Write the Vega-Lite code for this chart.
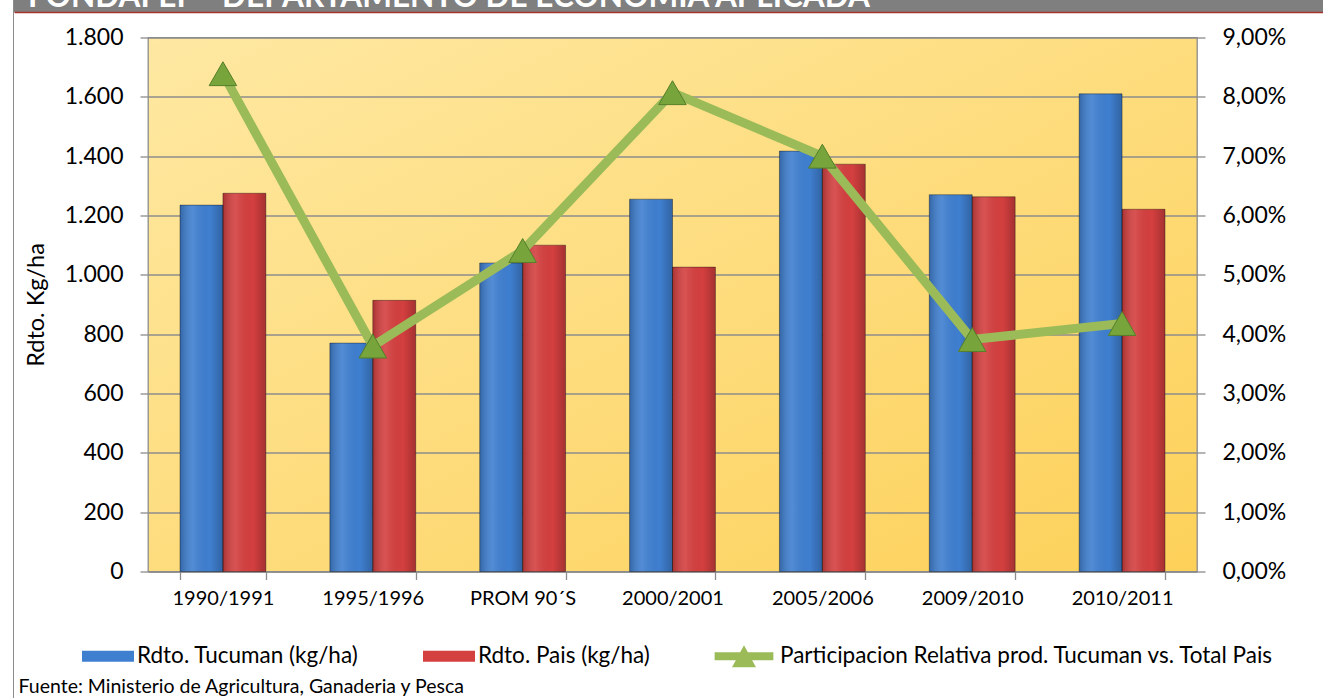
{
  "$schema": "https://vega.github.io/schema/vega-lite/v6.json",
  "padding": {"left": 10, "top": 0, "right": 0, "bottom": 0},
  "background": "white",
  "config": {
    "locale": {"number": {"decimal": ",", "thousands": ".", "grouping": [3], "currency": ["$", ""]}},
    "font": "Lato",
    "axis": {"labelFont": "Lato", "titleFont": "Lato", "labelColor": "#000000", "titleColor": "#000000"},
    "legend": {"labelFont": "Lato", "labelColor": "#000000"}
  },
  "datasets": {
    "bars": [
      {"periodo": "1990/1991", "serie": "Rdto. Tucuman (kg/ha)", "valor": 1235},
      {"periodo": "1990/1991", "serie": "Rdto. Pais (kg/ha)", "valor": 1275},
      {"periodo": "1995/1996", "serie": "Rdto. Tucuman (kg/ha)", "valor": 770},
      {"periodo": "1995/1996", "serie": "Rdto. Pais (kg/ha)", "valor": 914},
      {"periodo": "PROM 90´S", "serie": "Rdto. Tucuman (kg/ha)", "valor": 1040},
      {"periodo": "PROM 90´S", "serie": "Rdto. Pais (kg/ha)", "valor": 1100},
      {"periodo": "2000/2001", "serie": "Rdto. Tucuman (kg/ha)", "valor": 1255},
      {"periodo": "2000/2001", "serie": "Rdto. Pais (kg/ha)", "valor": 1026},
      {"periodo": "2005/2006", "serie": "Rdto. Tucuman (kg/ha)", "valor": 1417},
      {"periodo": "2005/2006", "serie": "Rdto. Pais (kg/ha)", "valor": 1373},
      {"periodo": "2009/2010", "serie": "Rdto. Tucuman (kg/ha)", "valor": 1270},
      {"periodo": "2009/2010", "serie": "Rdto. Pais (kg/ha)", "valor": 1263},
      {"periodo": "2010/2011", "serie": "Rdto. Tucuman (kg/ha)", "valor": 1610},
      {"periodo": "2010/2011", "serie": "Rdto. Pais (kg/ha)", "valor": 1221}
    ],
    "line": [
      {"periodo": "1990/1991", "part": 0.0839},
      {"periodo": "1995/1996", "part": 0.0380},
      {"periodo": "PROM 90´S", "part": 0.0541},
      {"periodo": "2000/2001", "part": 0.0807},
      {"periodo": "2005/2006", "part": 0.0700},
      {"periodo": "2009/2010", "part": 0.0391},
      {"periodo": "2010/2011", "part": 0.0418}
    ],
    "blank": [{"k": 1}],
    "header": [{"t": "FONDAFEP - DEPARTAMENTO DE ECONOMIA APLICADA"}]
  },
  "spacing": 0,
  "bounds": "flush",
  "hconcat": [
    {
      "width": 1,
      "height": 698,
      "view": {"fill": "#8c8c8c", "stroke": null},
      "data": {"name": "blank"},
      "mark": {"type": "point", "opacity": 0}
    },
    {
      "spacing": 25.5,
      "bounds": "flush",
      "vconcat": [
        {
          "width": 1312,
          "height": 12,
          "view": {"fill": "#7f7f7f", "stroke": null},
          "data": {"name": "header"},
          "mark": {"type": "text", "align": "left", "baseline": "alphabetic", "font": "Lato", "fontWeight": "bold", "fontSize": 31.5, "color": "#ffffff", "clip": true, "dx": 14, "dy": 1},
          "encoding": {
            "text": {"field": "t"},
            "x": {"datum": 0, "type": "quantitative", "scale": {"domain": [0, 1]},
                  "axis": {"domainColor": "#a8322e", "domainWidth": 1.5, "labels": false, "ticks": false, "grid": false, "title": null}}
          }
        },
        {
          "spacing": 0,
          "bounds": "flush",
          "hconcat": [
            {
              "width": 134,
              "height": 534,
              "view": {"stroke": null},
              "data": {"name": "blank"},
              "mark": {"type": "point", "opacity": 0}
            },
            {
              "width": 1049,
              "height": 534,
              "view": {
                "fill": {"gradient": "linear", "x1": 0, "y1": 0, "x2": 1, "y2": 1,
                         "stops": [{"offset": 0, "color": "#fee8a2"}, {"offset": 1, "color": "#fdd159"}]},
                "stroke": "#8c8c8c",
                "strokeWidth": 1.3
              },
              "encoding": {
                "x": {
                  "field": "periodo", "type": "nominal",
                  "scale": {"domain": ["1990/1991", "1995/1996", "PROM 90´S", "2000/2001", "2005/2006", "2009/2010", "2010/2011"], "paddingInner": 0.427, "paddingOuter": 0.2135},
                  "axis": {
                    "labelAngle": 0, "labelFontSize": 20, "labelPadding": 9,
                    "tickBand": "extent", "tickSize": 8, "tickColor": "#8c8c8c", "tickWidth": 1.3,
                    "domainColor": "#8c8c8c", "domainWidth": 1.3,
                    "title": "Fuente: Ministerio de Agricultura, Ganaderia y Pesca",
                    "titleFontSize": 19.5, "titleFontWeight": "normal", "titleAlign": "left",
                    "titleAnchor": "start", "titleX": -130, "titleY": 121, "titleBaseline": "alphabetic"
                  }
                }
              },
              "layer": [
                {
                  "data": {"name": "bars"},
                  "encoding": {
                    "xOffset": {"field": "serie", "type": "nominal",
                                "scale": {"domain": ["Rdto. Tucuman (kg/ha)", "Rdto. Pais (kg/ha)"], "paddingInner": 0, "paddingOuter": 0}},
                    "y": {
                      "field": "valor", "type": "quantitative",
                      "scale": {"domain": [0, 1800], "nice": false},
                      "axis": {
                        "orient": "left", "values": [0, 200, 400, 600, 800, 1000, 1200, 1400, 1600, 1800],
                        "format": ",.0f", "title": "Rdto. Kg/ha", "titleFontSize": 23.5, "titleFontWeight": "normal",
                        "titlePadding": 16, "labelFontSize": 23, "labelPadding": 17,
                        "tickSize": 8, "tickColor": "#8c8c8c", "tickWidth": 1.3, "domain": false,
                        "grid": true, "gridColor": "#8c8c8c", "gridWidth": 1.3
                      }
                    }
                  },
                  "layer": [
                    {
                      "mark": {"type": "bar"},
                      "encoding": {
                        "color": {
                          "field": "serie", "type": "nominal",
                          "scale": {"domain": ["Rdto. Tucuman (kg/ha)", "Rdto. Pais (kg/ha)", "Participacion Relativa prod. Tucuman vs. Total Pais"],
                                    "range": ["#3f7fd0", "#d43f3f", "#9bbb59"]},
                          "legend": {
                            "orient": "none", "legendX": 69, "legendY": 630, "direction": "horizontal", "columns": 3,
                            "title": null, "labelFontSize": 22.5, "labelOffset": 3, "symbolSize": 2704,
                            "columnPadding": 64, "padding": 0, "labelLimit": 700,
                            "encode": {
                              "labels": {
                                "update": {
                                  "dx": {"signal": "datum.value === 'Participacion Relativa prod. Tucuman vs. Total Pais' ? 7 : 0"}
                                }
                              },
                              "symbols": {
                                "update": {
                                  "shape": {"signal": "datum.value === 'Participacion Relativa prod. Tucuman vs. Total Pais' ? 'M-1.13,-0.15H1.13V0.15H-1.13Z M-0.46,0.42L0,-0.42L0.46,0.42Z' : 'M-1,-0.21H1V0.21H-1Z'"},
                                  "fill": {"signal": "datum.value === 'Rdto. Tucuman (kg/ha)' ? '#3f7fd0' : datum.value === 'Rdto. Pais (kg/ha)' ? '#d43f3f' : '#8db34c'"},
                                  "stroke": {"value": "transparent"},
                                  "strokeWidth": {"value": 0},
                                  "opacity": {"value": 1}
                                }
                              }
                            }
                          }
                        }
                      }
                    },
                    {
                      "mark": {
                        "type": "bar",
                        "fill": {"gradient": "linear", "x1": 0, "y1": 0, "x2": 1, "y2": 0,
                                 "stops": [
                                   {"offset": 0, "color": "rgba(0,0,0,0.20)"},
                                   {"offset": 0.3, "color": "rgba(255,255,255,0.10)"},
                                   {"offset": 0.7, "color": "rgba(0,0,0,0.0)"},
                                   {"offset": 1, "color": "rgba(0,0,0,0.22)"}
                                 ]},
                        "stroke": "rgba(0,0,0,0.35)",
                        "strokeWidth": 1
                      }
                    }
                  ]
                },
                {
                  "data": {"name": "line"},
                  "encoding": {
                    "y": {
                      "field": "part", "type": "quantitative",
                      "scale": {"domain": [0, 0.09], "nice": false},
                      "axis": {
                        "orient": "right", "values": [0, 0.01, 0.02, 0.03, 0.04, 0.05, 0.06, 0.07, 0.08, 0.09],
                        "format": ".2%", "title": null, "labelFontSize": 23, "labelPadding": 17,
                        "tickSize": 8, "tickColor": "#8c8c8c", "tickWidth": 1.3, "domain": false, "grid": false
                      }
                    }
                  },
                  "layer": [
                    {
                      "mark": {"type": "line", "strokeWidth": 9},
                      "encoding": {"color": {"datum": "Participacion Relativa prod. Tucuman vs. Total Pais", "type": "nominal"}}
                    },
                    {
                      "mark": {"type": "point", "shape": "triangle-up", "size": 760, "filled": true, "fill": "#78a53b", "stroke": "#557f2a", "strokeWidth": 1, "opacity": 1}
                    }
                  ]
                }
              ],
              "resolve": {"scale": {"y": "independent"}}
            }
          ]
        }
      ]
    }
  ]
}
